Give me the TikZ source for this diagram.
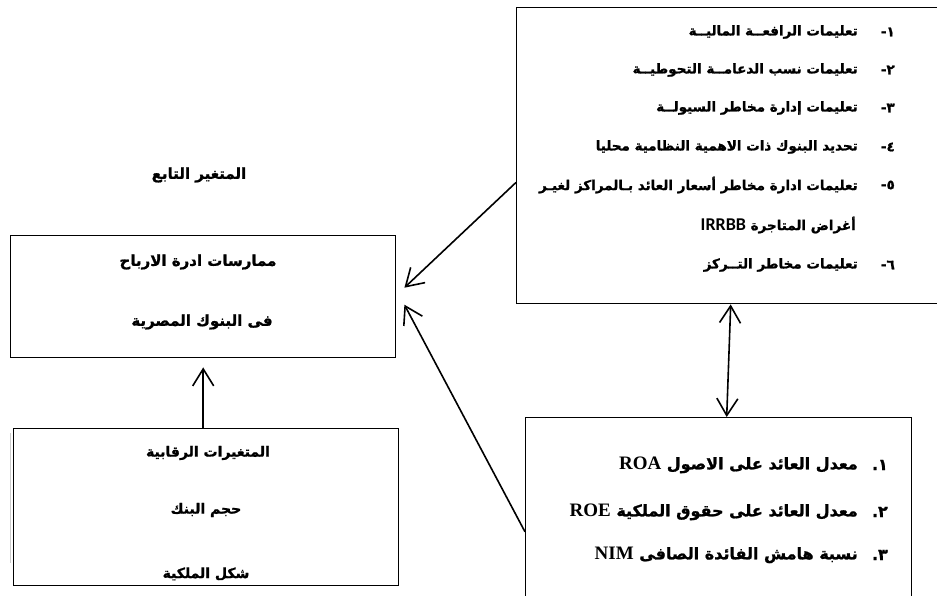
\documentclass[tikz,border=0pt]{standalone}
\usepackage{fontspec}
\usetikzlibrary{calc}
\usetikzlibrary{arrows.meta}
\TeXXeTstate=1
\newfontfamily\arabicfont[Script=Arabic, BoldFeatures={FakeBold=1.2}]{DejaVu Sans}
\newfontfamily\timesfont{Liberation Serif}
\newfontfamily\calibrifont{Carlito}
\tikzset{box/.style={draw=black, line width=1.4pt, inner sep=0pt, anchor=north west}}
\tikzset{txt/.style={font=\arabicfont\bfseries\fontsize{13.5}{15}\selectfont, inner sep=0pt}}
\tikzset{big/.style={txt, font=\arabicfont\bfseries\fontsize{15}{17}\selectfont}}
\tikzset{ctl/.style={txt, font=\arabicfont\bfseries\fontsize{14}{16}\selectfont}}
\tikzset{msr/.style={txt, font=\arabicfont\bfseries\fontsize{16}{18}\selectfont}}
\tikzset{conn/.style={line width=1.6pt, -{Straight Barb[length=17pt,width=21pt]}}}
\tikzset{both/.style={line width=1.6pt, {Straight Barb[length=17pt,width=21pt]}-{Straight Barb[length=17pt,width=21pt]}}}
\newcommand{\lat}[1]{\beginL{\timesfont\bfseries\fontsize{19}{20}\selectfont #1}\endL}

\begin{document}
\begin{tikzpicture}[x=1pt, y=-1pt]
	\useasboundingbox (0,0) rectangle (937,596);
	\clip (0,0) rectangle (937,596);
	
	% boxes
	\node[box, minimum width=430pt, minimum height=296pt] (regs) at (516,7) {};
	\node[box, minimum width=385pt, minimum height=122pt] (dep) at (10,235) {};
	\node[box, minimum width=385pt, minimum height=157pt] (ctrl) at (13,428) {};
	\node[box, minimum width=386pt, minimum height=190pt] (res) at (525,417) {};
	\draw[gray!40, line width=0.8pt] (10,433) -- (10,563);
	
	% dependent variable
	\node[big] (lbl) at (199,175) {\beginR المتغير التابع\endR};
	\node[big] (dep1) at (198,262) {\beginR ممارسات ادرة الارباح\endR};
	\node[big] (dep2) at (202,322) {\beginR فى البنوك المصرية\endR};
	
	% control variables
	\node[ctl] (ctrl1) at (208,453) {\beginR المتغيرات الرقابية\endR};
	\node[ctl] (ctrl2) at (206,510) {\beginR حجم البنك\endR};
	\node[ctl] (ctrl3) at (206,574) {\beginR شكل الملكية\endR};
	
	% regulations
	\node[txt, anchor=east] (n1) at (895,32) {\beginR ١-\endR};
	\node[txt, anchor=east] (n2) at (895,70) {\beginR ٢-\endR};
	\node[txt, anchor=east] (n3) at (895,108) {\beginR ٣-\endR};
	\node[txt, anchor=east] (n4) at (895,147) {\beginR ٤-\endR};
	\node[txt, anchor=east] (n5) at (895,185) {\beginR ٥-\endR};
	\node[txt, anchor=east] (n6) at (895,265) {\beginR ٦-\endR};
	\node[txt, anchor=east] (r1) at (858,32) {\beginR تعليمات الرافعــة الماليــة\endR};
	\node[txt, anchor=east] (r2) at (858,70) {\beginR تعليمات نسب الدعامــة التحوطيــة\endR};
	\node[txt, anchor=east] (r3) at (858,108) {\beginR تعليمات إدارة مخاطر السيولــة\endR};
	\node[txt, anchor=east] (r4) at (858,147) {\beginR تحديد البنوك ذات الاهمية النظامية محليا\endR};
	\node[txt, anchor=east] (r5) at (858,185) {\beginR تعليمات ادارة مخاطر أسعار العائد بـالمراكز لغيـر\endR};
	\node[txt, anchor=east] (r5b) at (856,225) {\beginR أغراض المتاجرة \beginL{\calibrifont\bfseries\fontsize{18}{20}\selectfont IRRBB}\endL\endR};
	\node[txt, anchor=east] (r6) at (858,265) {\beginR تعليمات مخاطر التــركز\endR};
	
	% performance measures
	\node[msr, anchor=east] (m1) at (888,465) {\beginR ١.\endR};
	\node[msr, anchor=east] (m2) at (888,512) {\beginR ٢.\endR};
	\node[msr, anchor=east] (m3) at (888,555) {\beginR ٣.\endR};
	\node[msr, anchor=east] (p1) at (858,465) {\beginR معدل العائد على الاصول \lat{ROA}\endR};
	\node[msr, anchor=east] (p2) at (858,512) {\beginR معدل العائد على حقوق الملكية \lat{ROE}\endR};
	\node[msr, anchor=east] (p3) at (858,555) {\beginR نسبة هامش الفائدة الصافى \lat{NIM}\endR};
	
	% arrows
	\draw[conn] ($(regs.north west)!0.59!(regs.south west)$) -- ([shift={(8pt,9pt)}]dep.east);
	\draw[conn] ($(res.north west)!0.6!(res.south west)$) -- ([shift={(8pt,-8pt)}]dep.east);
	\draw[both] ([xshift=-1pt]regs.south) -- ([xshift=-5pt]regs.south |- res.north);
	\draw[conn] (ctrl.north -| dep.south) -- ([yshift=-9pt]dep.south);
\end{tikzpicture}
\end{document}
